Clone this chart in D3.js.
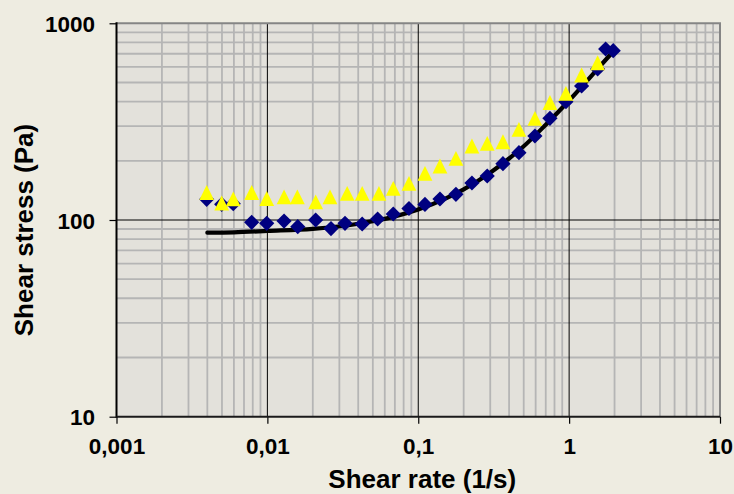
<!DOCTYPE html>
<html><head><meta charset="utf-8">
<script src="https://cdn.jsdelivr.net/npm/d3@7"></script>
<style>
html,body{margin:0;padding:0;background:#EEECE1;}
svg{display:block;}
text{font-family:"Liberation Sans",Arial,sans-serif;font-weight:bold;fill:#000;}
</style></head>
<body>
<svg id="chart" width="734" height="494"></svg>
<script>
// Diamond series (navy)
const rateA = [0.00396,0.00498,0.00594,0.00787,0.0099,0.0129,0.0159,0.0209,0.0264,0.0327,0.0425,0.0538,0.0683,0.0868,0.1108,0.1393,0.1777,0.2269,0.2866,0.3642,0.4649,0.5934,0.7462,0.9524,1.21,1.545,1.746,1.96];
const stressA = [127.4,120.2,121.0,97.3,96.2,98.8,92.5,100,90.5,96.2,95.4,101.2,107.3,114.4,120.0,127.9,135.1,154.2,167.4,193.3,219.9,267.3,328.9,399.4,480,585.8,740,726];
// Triangle series (yellow)
const rateB = [0.00396,0.00498,0.00594,0.00787,0.0099,0.0129,0.0158,0.0209,0.026,0.0338,0.0425,0.0549,0.0683,0.0868,0.1108,0.1393,0.1777,0.2269,0.2866,0.3642,0.4649,0.5934,0.7462,0.9524,1.21,1.545];
const stressB = [138.0,122.0,128.2,138.0,128.6,131.2,131.2,123.7,131.2,136.7,136.7,136.7,144.9,153.7,172.8,188.2,205.9,237.8,245.5,250.0,289.2,328.9,395.8,440.7,546,630];
// Fitted curve (black line)
const curveRate = [0.004,0.006,0.01,0.02,0.04,0.07,0.1,0.15,0.2,0.3,0.4,0.5,0.7,1.0,1.3,1.6,1.9];
const curveStress = [86.2,86.6,88,90.2,95.7,104.3,113.1,128,143.1,174,205.4,237,305,405,505,605,700];
// Axes
const xTicks = [0.001,0.01,0.1,1,10];
const xTickLabels = ["0,001","0,01","0,1","1","10"];
const yTicks = [10,100,1000];
const yTickLabels = ["10","100","1000"];
const xTitle = "Shear rate (1/s)";
const yTitle = "Shear stress (Pa)";

const L=116.5, R=720, T=23.3, B=416.7;
const svg = d3.select("#chart");
const x = d3.scaleLog().domain([0.001,10]).range([L,R]);
const y = d3.scaleLog().domain([10,1000]).range([B,T]);

svg.append("rect").attr("x",L).attr("y",T).attr("width",R-L).attr("height",B-T).attr("fill","#E3E1DB");

// minor grid
const xMinor = [], yMinor = [];
[0.001,0.01,0.1,1].forEach(d=>{for(let k=2;k<=9;k++) xMinor.push(d*k);});
[10,100].forEach(d=>{for(let k=2;k<=9;k++) yMinor.push(d*k);});
const g = svg.append("g");
g.selectAll(".xm").data(xMinor).join("line").attr("x1",d=>x(d)).attr("x2",d=>x(d)).attr("y1",T).attr("y2",B).attr("stroke","#B5B5B5").attr("stroke-width",1.8);
g.selectAll(".ym").data(yMinor).join("line").attr("y1",d=>y(d)).attr("y2",d=>y(d)).attr("x1",L).attr("x2",R).attr("stroke","#B5B5B5").attr("stroke-width",1.8);
// major grid
g.selectAll(".xM").data(xTicks.slice(1,-1)).join("line").attr("x1",d=>x(d)).attr("x2",d=>x(d)).attr("y1",T).attr("y2",B).attr("stroke","#000").attr("stroke-width",1);
g.selectAll(".yM").data(yTicks.slice(1,-1)).join("line").attr("y1",d=>y(d)).attr("y2",d=>y(d)).attr("x1",L).attr("x2",R).attr("stroke","#000").attr("stroke-width",1);

// border top/right
svg.append("path").attr("d",`M${L},${T}H${R}V${B}`).attr("fill","none").attr("stroke","#858585").attr("stroke-width",2);

// axes
const xAxis = d3.axisBottom(x).tickValues(xTicks).tickSize(7).tickFormat((d,i)=>xTickLabels[i]);
const yAxis = d3.axisLeft(y).tickValues(yTicks).tickSize(7).tickFormat((d,i)=>yTickLabels[i]);
const gx = svg.append("g").attr("transform",`translate(0,${B})`).call(xAxis);
const gy = svg.append("g").attr("transform",`translate(${L},0)`).call(yAxis);
[gx,gy].forEach(a=>{
  a.select(".domain").remove();
  a.selectAll(".tick line").attr("stroke","#000").attr("stroke-width",1.2);
  a.selectAll(".tick text").style("font-size","22.5px").attr("fill","#000");
});
gx.selectAll(".tick text").attr("dy",null).attr("y",37.5);
gy.selectAll(".tick text").attr("dy",null).attr("x",-21.5).attr("y",8.2);
svg.append("line").attr("x1",L).attr("x2",L).attr("y1",T-1).attr("y2",B+1).attr("stroke","#000").attr("stroke-width",2);
svg.append("line").attr("x1",L).attr("x2",R).attr("y1",B).attr("y2",B).attr("stroke","#1a1a1a").attr("stroke-width",2);

// curve
const line = d3.line().x((d,i)=>x(curveRate[i])).y(d=>y(d)).curve(d3.curveMonotoneX);
svg.append("path").datum(curveStress).attr("d",line).attr("fill","none").attr("stroke","#000").attr("stroke-width",4.2).attr("stroke-linecap","round");

// diamonds
const dh = 7.6;
svg.append("g").selectAll("path").data(stressA).join("path")
  .attr("d",(d,i)=>{const cx=x(rateA[i]), cy=y(d); return `M${cx},${cy-dh}L${cx+dh},${cy}L${cx},${cy+dh}L${cx-dh},${cy}Z`;})
  .attr("fill","#000080");
// triangles
const th = 7.4;
svg.append("g").selectAll("path").data(stressB).join("path")
  .attr("d",(d,i)=>{const cx=x(rateB[i]), cy=y(d); return `M${cx},${cy-th}L${cx+th},${cy+th}L${cx-th},${cy+th}Z`;})
  .attr("fill","#FFFF00");

// titles
svg.append("text").attr("x",(L+R)/2+4).attr("y",488).attr("text-anchor","middle").style("font-size","26px").text(xTitle);
svg.append("text").attr("transform","translate(33,230) rotate(-90)").attr("text-anchor","middle").style("font-size","26px").text(yTitle);
</script>
</body></html>
